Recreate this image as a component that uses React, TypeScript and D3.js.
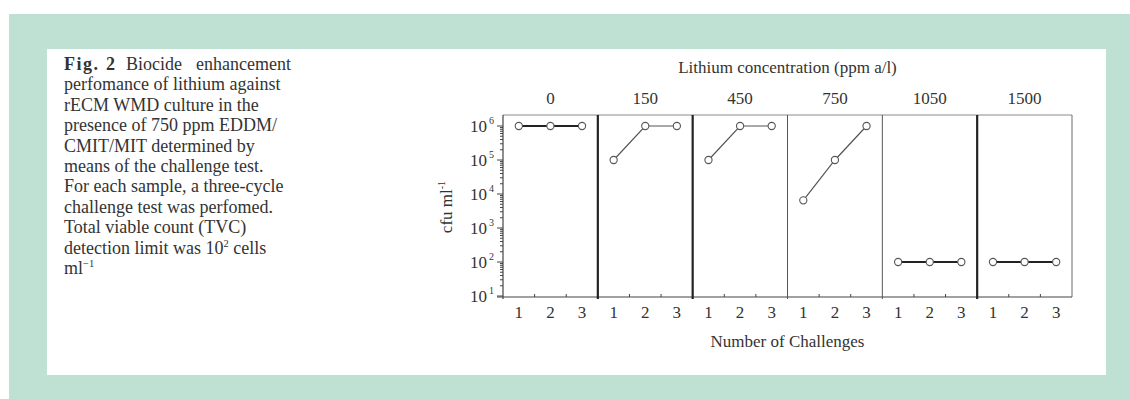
import React from "react";
import * as d3 from "d3";

// Lithium concentrations (ppm a/l), one facet each
const concentrations = ["0", "150", "450", "750", "1050", "1500"];
// Challenge cycles on the x axis of every facet
const challenges = [1, 2, 3];
// Viable counts (cfu ml^-1) after each challenge, per concentration
const cfu0 = [1e6, 1e6, 1e6];
const cfu150 = [1e5, 1e6, 1e6];
const cfu450 = [1e5, 1e6, 1e6];
const cfu750 = [6.5e3, 1e5, 1e6];
const cfu1050 = [1e2, 1e2, 1e2];
const cfu1500 = [1e2, 1e2, 1e2];
const seriesByConcentration = [cfu0, cfu150, cfu450, cfu750, cfu1050, cfu1500];
// Decade ticks on the log axis (exponents)
const yExponents = [1, 2, 3, 4, 5, 6];

const captionLines = [
  "perfomance of lithium against",
  "rECM WMD culture in the",
  "presence of 750 ppm EDDM/",
  "CMIT/MIT determined by",
  "means of the challenge test.",
  "For each sample, a three-cycle",
  "challenge test was perfomed.",
  "Total viable count (TVC)",
];

const FONT = "'Liberation Serif', 'Times New Roman', Times, serif";
const W = 1130;
const H = 399;
const plot = { left: 503, right: 1072, top: 115, bottom: 297 };
// heavy separators after facets 0, 1 and 4
const heavyDivider = [true, true, false, false, true];
// heavy connecting lines for the flat series
const heavyLine = [true, false, false, false, true, true];

export default function App() {
  const panel = d3
    .scaleBand<string>()
    .domain(concentrations)
    .range([plot.left, plot.right])
    .paddingInner(0)
    .paddingOuter(0);
  const bw = panel.bandwidth();
  const x = d3.scaleLinear().domain([0.5, 3.5]).range([0, bw]);
  const y = d3.scaleLog().domain([10, 1e6]).range([296, 126]);

  const minorTicks: number[] = [];
  for (let e = 1; e < 6; e++) {
    for (let m = 2; m <= 9; m++) minorTicks.push(m * Math.pow(10, e));
  }

  const line = d3
    .line<number>()
    .x((_, i) => x(challenges[i]))
    .y((v) => y(v));

  const ink = "#333";
  const capX = 64;
  const capY0 = 70;
  const capDy = 20.4;

  return (
    <div style={{ position: "absolute", left: 0, top: 0 }}>
      <svg width={W} height={H} style={{ display: "block" }} fontFamily={FONT}>
        <rect x={0} y={0} width={W} height={H} fill="#ffffff" />
        <rect x={9} y={14} width={W - 9} height={H - 14} fill="#bee1d3" />
        <rect x={47} y={49} width={1106 - 47} height={375 - 49} fill="#ffffff" />

        {/* caption */}
        <g fill={ink} fontSize={18}>
          <text x={capX} y={capY0} fontWeight="bold" textLength={34} lengthAdjust="spacing">Fig.</text>
          <text x={106} y={capY0} fontWeight="bold">2</text>
          <text x={126} y={capY0}>Biocide</text>
          <text x={291} y={capY0} textAnchor="end">enhancement</text>
          {captionLines.map((t, i) => (
            <text key={t} x={capX} y={capY0 + capDy * (i + 1)}>{t}</text>
          ))}
          <text x={capX} y={capY0 + capDy * 9}>
            detection limit was 10
            <tspan dy={-7} fontSize={10.5}>2</tspan>
            <tspan dy={7}> cells</tspan>
          </text>
          <text x={capX} y={capY0 + capDy * 10}>
            ml
            <tspan dy={-7} fontSize={10.5}>−1</tspan>
          </text>
        </g>

        {/* titles */}
        <g fill={ink} fontSize={17}>
          <text x={(plot.left + plot.right) / 2} y={73} textAnchor="middle">
            Lithium concentration (ppm a/l)
          </text>
          {concentrations.map((c) => (
            <text key={c} x={(panel(c) as number) + bw / 2} y={104} textAnchor="middle">
              {c}
            </text>
          ))}
          <text x={(plot.left + plot.right) / 2} y={347} textAnchor="middle">
            Number of Challenges
          </text>
          <text transform={`translate(452,207) rotate(-90)`} textAnchor="middle">
            cfu ml
            <tspan dy={-7} fontSize={10}>-1</tspan>
          </text>
        </g>

        {/* frame */}
        <line x1={plot.left} x2={plot.right} y1={plot.top} y2={plot.top} stroke="#8a8a8a" strokeWidth={1} />
        <line x1={plot.right} x2={plot.right} y1={plot.top} y2={plot.bottom} stroke="#6a6a6a" strokeWidth={1} />
        <line x1={plot.left - 6} x2={plot.right} y1={plot.bottom} y2={plot.bottom} stroke="#444" strokeWidth={1.2} />
        <line x1={plot.left} x2={plot.left} y1={plot.top} y2={plot.bottom + 2} stroke="#444" strokeWidth={1.2} />
        {concentrations.slice(1).map((c, i) => (
          <line
            key={c}
            x1={panel(c) as number}
            x2={panel(c) as number}
            y1={plot.top}
            y2={plot.bottom + 2}
            stroke={heavyDivider[i] ? "#222" : "#555"}
            strokeWidth={heavyDivider[i] ? 2.2 : 1}
          />
        ))}

        {/* y axis ticks */}
        <g stroke="#444" strokeWidth={1}>
          {yExponents.map((e) => (
            <line key={e} x1={plot.left - 6} x2={plot.left} y1={y(Math.pow(10, e))} y2={y(Math.pow(10, e))} />
          ))}
          {minorTicks.map((v) => (
            <line key={v} x1={plot.left - 3} x2={plot.left} y1={y(v)} y2={y(v)} />
          ))}
        </g>
        <g fill={ink} fontSize={17}>
          {yExponents.map((e) => (
            <text key={e} x={487} y={y(Math.pow(10, e)) + 6} textAnchor="end">
              10
            </text>
          ))}
          {yExponents.map((e) => (
            <text key={"s" + e} x={489} y={y(Math.pow(10, e)) - 2} fontSize={10}>
              {e}
            </text>
          ))}
        </g>

        {/* x axis ticks and labels */}
        {concentrations.map((c) => {
          const x0 = panel(c) as number;
          return (
            <g key={c}>
              {[1.5, 2.5].map((t) => (
                <line key={t} x1={x0 + x(t)} x2={x0 + x(t)} y1={plot.bottom - 3} y2={plot.bottom} stroke="#444" />
              ))}
              {challenges.map((ch) => (
                <text key={ch} x={x0 + x(ch)} y={318} textAnchor="middle" fill={ink} fontSize={17}>
                  {ch}
                </text>
              ))}
            </g>
          );
        })}

        {/* series */}
        {concentrations.map((c, k) => {
          const x0 = panel(c) as number;
          const vals = seriesByConcentration[k];
          return (
            <g key={c} transform={`translate(${x0},0)`}>
              <path
                d={line(vals) as string}
                fill="none"
                stroke={heavyLine[k] ? "#222" : "#555"}
                strokeWidth={heavyLine[k] ? 2 : 1.2}
              />
              {vals.map((v, i) => (
                <circle key={i} cx={x(challenges[i])} cy={y(v)} r={3.6} fill="#fff" stroke="#555" strokeWidth={1.1} />
              ))}
            </g>
          );
        })}
      </svg>
    </div>
  );
}
